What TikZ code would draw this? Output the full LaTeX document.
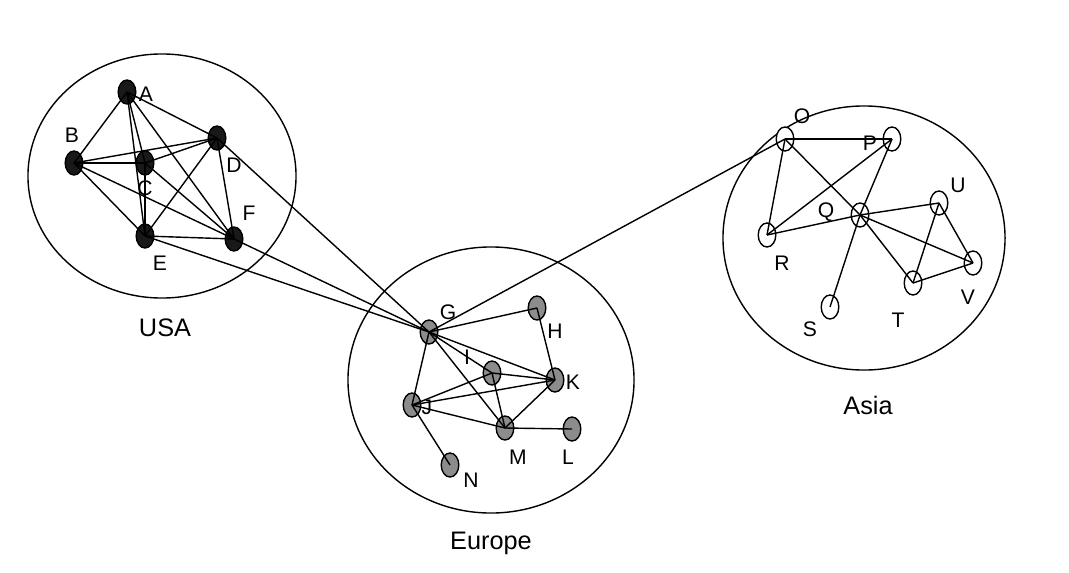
\documentclass[tikz,border=0pt]{standalone}
\usepackage{fontspec}
\setmainfont{Liberation Sans}
\usetikzlibrary{shapes.geometric}

\tikzset{
  vertex/.style={ellipse,draw,line width=1pt,inner sep=0pt,minimum width=0.44cm,minimum height=0.6cm},
  usa/.style={vertex,fill=black!90},
  eur/.style={vertex,fill=black!45},
  asi/.style={vertex,fill=white},
  region/.style={ellipse,draw,line width=1pt,inner sep=0pt},
  tag/.style={font=\fontsize{15}{18}\selectfont,inner sep=0pt},
  title/.style={font=\fontsize{18}{22}\selectfont,inner sep=0pt}
}

\begin{document}
\begin{tikzpicture}[x=0.025cm,y=-0.025cm,line width=1pt]
  \useasboundingbox (0,0) rectangle (1069,572);

  % regions
  \node [region,minimum width=6.7cm,minimum height=6.1cm] (usa) at (162,176) {};
  \node [region,minimum width=7.15cm,minimum height=6.65cm] (europe) at (491,380) {};
  \node [region,minimum width=7.05cm,minimum height=6.6cm] (asia) at (864,238) {};
  \node [title] (tusa) at (165,328) {USA};
  \node [title] (teurope) at (491,543) {Europe};
  \node [title] (tasia) at (868,405) {Asia};

  % USA
  \node [usa] (A) at (127,92) {};
  \node [usa] (B) at (74,163) {};
  \node [usa] (C) at (145,163) {};
  \node [usa] (D) at (217,138) {};
  \node [usa] (E) at (145,236) {};
  \node [usa] (F) at (234,239) {};

  % Europe
  \node [eur] (G) at (429,332) {};
  \node [eur] (H) at (537,308) {};
  \node [eur] (I) at (492,373) {};
  \node [eur] (J) at (412,405) {};
  \node [eur] (K) at (555,380) {};
  \node [eur] (L) at (572,429) {};
  \node [eur] (M) at (505,428) {};
  \node [eur] (N) at (450,465) {};

  % Asia
  \node [asi] (O) at (785,139) {};
  \node [asi] (P) at (892,139) {};
  \node [asi] (Q) at (860,215) {};
  \node [asi] (R) at (767,235) {};
  \node [asi] (S) at (830,307) {};
  \node [asi] (T) at (913,283) {};
  \node [asi] (U) at (939,203) {};
  \node [asi] (V) at (973,263) {};

  % labels
  \foreach \n/\x/\y in {A/146/94, B/72/135, C/145/188, D/234/165, E/160/263, F/249/213,
      G/448/312, H/555/331, I/467/357, J/427/407, K/573/382, L/568/457, M/518/457, N/471/480,
      O/802/116, P/870/143, Q/826/212, R/782/263, S/810/329, T/898/320, U/958/185, V/968/297}
    \node [tag] (l\n) at (\x,\y) {\n};

  % links
  \foreach \a/\b in {A/B, A/C, A/D, A/E, A/F, B/C, B/D, B/E, B/F, C/D, C/E, C/F, D/E, D/F, E/F,
      D/G, F/G, E/G, G/O,
      G/H, G/I, G/J, G/K, G/M, H/K, I/J, I/K, I/M, J/K, J/M, J/N, K/M, M/L,
      O/P, O/R, O/Q, P/R, P/Q, Q/S, R/Q, Q/U, Q/T, Q/V, U/T, U/V, T/V}
    \draw (\a.center) -- (\b.center);
\end{tikzpicture}
\end{document}
